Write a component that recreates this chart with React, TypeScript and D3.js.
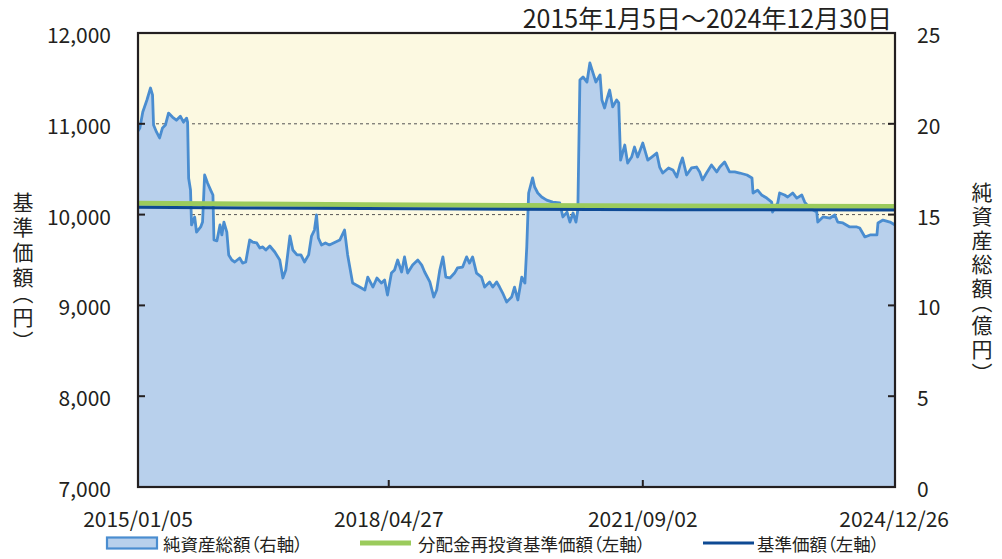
import React from 'react';
import * as d3 from 'd3';

// 純資産総額（億円, 右軸）
const netAssetDates = [
  '2015-01-05','2015-01-14','2015-01-28','2015-02-17','2015-03-06','2015-03-16','2015-03-21','2015-04-04','2015-04-19','2015-05-03',
  '2015-05-17','2015-06-01','2015-06-20','2015-07-09','2015-07-28','2015-08-12','2015-08-27','2015-09-01','2015-09-06','2015-09-15',
  '2015-09-20','2015-10-05','2015-10-14','2015-11-03','2015-11-12','2015-11-22','2015-12-06','2015-12-21','2016-01-01','2016-01-06',
  '2016-01-20','2016-02-04','2016-02-13','2016-02-23','2016-03-08','2016-03-17','2016-04-01','2016-04-15','2016-05-09','2016-05-23',
  '2016-06-07','2016-06-26','2016-07-10','2016-07-30','2016-08-14','2016-08-28','2016-09-12','2016-10-01','2016-10-25','2016-11-18',
  '2016-12-03','2016-12-17','2017-01-06','2017-01-20','2017-02-09','2017-02-28','2017-03-17','2017-04-06','2017-04-20','2017-05-04',
  '2017-05-14','2017-05-23','2017-06-07','2017-06-26','2017-07-15','2017-08-14','2017-09-03','2017-09-26','2017-10-11','2017-11-04',
  '2017-12-08','2018-01-02','2018-01-16','2018-02-10','2018-03-01','2018-03-23','2018-04-07','2018-04-21','2018-05-10','2018-05-25',
  '2018-06-09','2018-06-28','2018-07-12','2018-07-27','2018-08-20','2018-09-14','2018-10-03','2018-10-17','2018-11-11','2018-11-30',
  '2018-12-14','2018-12-29','2019-01-13','2019-01-27','2019-02-16','2019-03-10','2019-03-24','2019-04-18','2019-05-07','2019-05-21',
  '2019-06-05','2019-06-24','2019-07-18','2019-08-02','2019-08-26','2019-09-10','2019-09-29','2019-10-13','2019-10-28','2019-11-16',
  '2019-12-10','2019-12-24','2020-01-09','2020-01-28','2020-02-12','2020-02-21','2020-03-01','2020-03-20','2020-03-30','2020-04-14',
  '2020-05-03','2020-05-27','2020-06-25','2020-07-29','2020-08-13','2020-09-02','2020-09-16','2020-10-01','2020-10-15','2020-10-24',
  '2020-11-03','2020-11-18','2020-12-07','2020-12-21','2021-01-05','2021-01-19','2021-02-08','2021-02-17','2021-03-02','2021-03-12',
  '2021-03-26','2021-04-10','2021-04-29','2021-05-09','2021-05-18','2021-06-07','2021-06-21','2021-07-10','2021-07-24','2021-08-08',
  '2021-09-02','2021-09-26','2021-10-15','2021-11-08','2021-11-22','2021-12-07','2022-01-04','2022-01-25','2022-02-13','2022-02-28',
  '2022-03-12','2022-04-01','2022-04-25','2022-05-19','2022-06-03','2022-06-17','2022-07-06','2022-07-30','2022-08-24','2022-09-08',
  '2022-10-01','2022-10-25','2022-11-19','2022-12-13','2023-01-17','2023-02-10','2023-02-15','2023-03-09','2023-03-28','2023-04-22',
  '2023-05-16','2023-05-20','2023-06-14','2023-06-23','2023-07-17','2023-08-01','2023-08-25','2023-09-14','2023-10-08','2023-10-22',
  '2023-11-15','2023-12-19','2023-12-24','2024-01-18','2024-02-21','2024-03-15','2024-03-29','2024-04-23','2024-05-26','2024-06-29',
  '2024-07-13','2024-08-07','2024-09-01','2024-10-04','2024-10-09','2024-11-02','2024-12-06','2024-12-30'
];
const netAssetValues = [
  19.6,19.77,20.65,21.31,21.97,21.59,19.93,19.55,19.22,19.77,
  19.93,20.59,20.37,20.2,20.42,20.09,20.31,20.09,17.0,16.35,
  14.43,14.87,14.04,14.32,14.59,17.18,16.74,16.35,16.08,13.6,
  13.55,14.43,13.88,14.59,14.04,12.78,12.5,12.39,12.61,12.33,
  12.39,13.6,13.49,13.44,13.16,13.22,13.05,13.27,12.94,12.5,
  11.51,11.95,13.82,13.05,12.78,12.78,12.39,12.78,13.82,14.15,
  14.98,13.71,13.33,13.44,13.33,13.49,13.6,14.15,12.78,11.23,
  11.01,10.85,11.56,11.01,11.51,11.23,11.4,10.57,11.78,11.95,
  12.5,11.84,12.67,11.78,12.22,12.5,12.22,11.84,11.29,10.46,
  10.85,11.95,12.67,11.56,11.51,11.78,12.06,12.11,12.67,12.33,
  12.67,11.78,11.56,11.01,11.29,11.01,11.29,11.01,10.68,10.19,
  10.46,11.01,10.3,11.56,11.23,13.22,16.19,17.02,16.52,16.19,
  15.97,15.8,15.69,15.64,14.87,15.14,14.59,15.09,14.59,15.25,
  22.41,22.58,22.3,23.35,22.8,22.3,22.69,21.31,20.87,21.31,
  21.86,20.93,21.31,21.15,18.0,18.83,17.84,18.17,18.72,18.17,
  18.94,18.0,18.17,18.39,17.62,17.29,17.57,17.46,17.07,17.73,
  18.12,17.18,17.57,17.62,17.35,16.91,17.29,17.73,17.35,17.62,
  17.9,17.35,17.35,17.29,17.18,17.02,16.19,16.35,16.08,15.91,
  15.69,15.14,15.64,16.19,16.08,15.97,16.19,15.91,16.08,15.69,
  15.36,15.14,14.59,14.87,14.81,14.98,14.59,14.54,14.32,14.32,
  14.26,13.77,13.88,13.88,14.54,14.7,14.59,14.43
];

// 分配金再投資基準価額 / 基準価額（円, 左軸）
const priceDates = ['2015-01-05','2016-06-01','2018-01-04','2020-01-06','2022-01-04','2024-12-30'];
const reinvestValues = [10124, 10117, 10108, 10099, 10094, 10090];
const navValues = [10080, 10074, 10066, 10058, 10054, 10050];

const leftTicks = [7000, 8000, 9000, 10000, 11000, 12000];
const rightTicks = [0, 5, 10, 15, 20, 25];
const gridValues = [8000, 9000, 10000, 11000];
const xTickDates = ['2015-01-05', '2018-04-27', '2021-09-02', '2024-12-26'];
const xTickLabels = ['2015/01/05', '2018/04/27', '2021/09/02', '2024/12/26'];
const periodTitle = '2015年1月5日～2024年12月30日';
const leftTitle = '基準価額（円）';
const rightTitle = '純資産総額（億円）';
const legendLabels = ['純資産総額（右軸）', '分配金再投資基準価額（左軸）', '基準価額（左軸）'];

const W = 1002, H = 559;
const L = 138, R = 895, T = 33, B = 487;
const FONT = '"Noto Sans CJK JP", "Noto Sans", sans-serif';
const BG = '#fcf9e1';
const AREA_FILL = '#b8d0ec';
const AREA_LINE = '#4a8dd0';
const GREEN = '#9bcb5c';
const NAVY = '#0e4a94';
const INK = '#231f20';

const parse = d3.timeParse('%Y-%m-%d');

export default function App() {
  const x = d3.scaleTime().domain([parse('2015-01-05')!, parse('2024-12-30')!]).range([L, R]);
  const yL = d3.scaleLinear().domain([7000, 12000]).range([B, T]);
  const yR = d3.scaleLinear().domain([0, 25]).range([B, T]);

  const assets = netAssetDates.map((d, i) => ({ date: parse(d)!, v: netAssetValues[i] }));
  const reinv = priceDates.map((d, i) => ({ date: parse(d)!, v: reinvestValues[i] }));
  const nav = priceDates.map((d, i) => ({ date: parse(d)!, v: navValues[i] }));

  const area = d3.area<any>().x(d => x(d.date)).y0(yR(0)).y1(d => yR(d.v));
  const lineR = d3.line<any>().x(d => x(d.date)).y(d => yR(d.v));
  const lineL = d3.line<any>().x(d => x(d.date)).y(d => yL(d.v));

  const legY = 543;
  const legStyle = { fontFeatureSettings: '"palt"' } as any;
  const vStyle = (ls: number) => ({ writingMode: 'vertical-rl', fontFeatureSettings: '"vpal"', letterSpacing: `${ls}px` } as any);

  return (
    <div style={{ position: 'fixed', left: 0, top: 0 }}>
      <svg width={W} height={H} style={{ display: 'block', background: '#fff' }}>
        <defs>
          <clipPath id="plot"><rect x={L} y={T} width={R - L} height={B - T} /></clipPath>
        </defs>
        <rect x={L} y={T} width={R - L} height={B - T} fill={BG} />
        {gridValues.map(v => (
          <line key={v} x1={L} x2={R} y1={yL(v)} y2={yL(v)} stroke="#555" strokeWidth={1} strokeDasharray="3,3" />
        ))}
        <g clipPath="url(#plot)">
          <path d={area(assets)!} fill={AREA_FILL} />
          <path d={lineR(assets)!} fill="none" stroke={AREA_LINE} strokeWidth={2.8} strokeLinejoin="round" />
          <path d={lineL(reinv)!} fill="none" stroke={GREEN} strokeWidth={5} />
          <path d={lineL(nav)!} fill="none" stroke={NAVY} strokeWidth={3} />
        </g>
        <rect x={L} y={T} width={R - L} height={B - T} fill="none" stroke={INK} strokeWidth={2.2} />
        {leftTicks.map(v => (
          <g key={v}>
            <line x1={L} x2={L + 7} y1={yL(v)} y2={yL(v)} stroke={INK} strokeWidth={2} />
            <text x={111} y={yL(v) + 1} textAnchor="end" dominantBaseline="central" fontSize={21} fontFamily={FONT} fill={INK}>{d3.format(',')(v)}</text>
          </g>
        ))}
        {rightTicks.map(v => (
          <g key={v}>
            <line x1={R - 7} x2={R} y1={yR(v)} y2={yR(v)} stroke={INK} strokeWidth={2} />
            <text x={917} y={yR(v) + 1} textAnchor="start" dominantBaseline="central" fontSize={21} fontFamily={FONT} fill={INK}>{v}</text>
          </g>
        ))}
        {xTickDates.map((d, i) => {
          const px = x(parse(d)!);
          return (
            <g key={d}>
              {i > 0 && i < xTickDates.length - 1 && (
                <line x1={px} x2={px} y1={B} y2={B - 7} stroke={INK} strokeWidth={2} />
              )}
              <text x={px} y={518} textAnchor="middle" dominantBaseline="central" fontSize={21} fontFamily={FONT} fill={INK}>{xTickLabels[i]}</text>
            </g>
          );
        })}
        <text x={892} y={17} textAnchor="end" dominantBaseline="central" fontSize={25} fontFamily={FONT} fill={INK}>{periodTitle}</text>
        <text x={23} y={269} textAnchor="middle" fontSize={21} fontFamily={FONT} fill={INK} style={vStyle(4)}>{leftTitle}</text>
        <text x={982} y={279} textAnchor="middle" fontSize={21} fontFamily={FONT} fill={INK} style={vStyle(3)}>{rightTitle}</text>
        {/* legend */}
        <rect x={107} y={legY - 5.5} width={50} height={11} fill={AREA_FILL} stroke={AREA_LINE} strokeWidth={2.2} />
        <text x={163} y={legY} dominantBaseline="central" fontSize={17.5} fontFamily={FONT} fill={INK} style={legStyle}>{legendLabels[0]}</text>
        <line x1={360} x2={411} y1={legY} y2={legY} stroke={GREEN} strokeWidth={5} />
        <text x={418} y={legY} dominantBaseline="central" fontSize={17.5} fontFamily={FONT} fill={INK} style={legStyle}>{legendLabels[1]}</text>
        <line x1={703} x2={754} y1={legY} y2={legY} stroke={NAVY} strokeWidth={3} />
        <text x={757} y={legY} dominantBaseline="central" fontSize={17.5} fontFamily={FONT} fill={INK} style={legStyle}>{legendLabels[2]}</text>
      </svg>
    </div>
  );
}
